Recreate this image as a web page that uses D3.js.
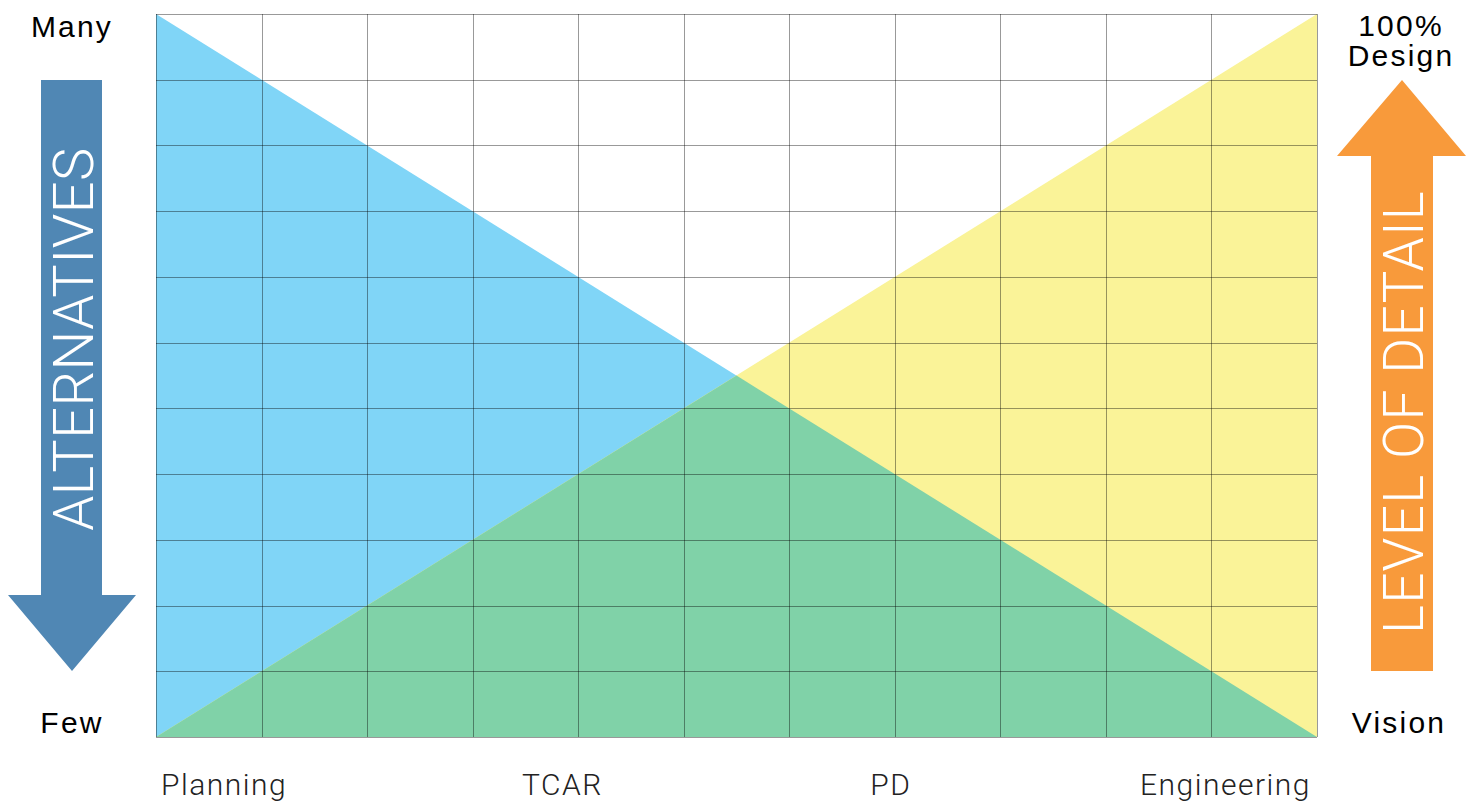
<!DOCTYPE html>
<html>
<head>
<meta charset="utf-8">
<script src="https://cdn.jsdelivr.net/npm/d3@7"></script>
<style>
    html, body { margin: 0; padding: 0; background: #fff; }
    svg { display: block; }
</style>
</head>
<body>
<svg id="chart" width="1471" height="804"></svg>
<script>
// 数据
var stages = ['Planning', 'TCAR', 'PD', 'Engineering'];
var stagePos = [0, 0.35, 0.633, 1];
var progress = [0, 1];
var alternatives = [100, 0];   // Many -> Few
var detail = [0, 100];         // Vision -> 100% Design
var gridCols = d3.range(0, 12);
var gridRows = d3.range(0, 12);

var svg = d3.select('#chart');

var x = d3.scaleLinear().domain([0, 1]).range([156, 1317]);
var y = d3.scaleLinear().domain([0, 100]).range([737, 14]);
var gx = d3.scaleLinear().domain([0, 11]).range([156, 1317]);
var gy = d3.scaleLinear().domain([0, 11]).range([737, 14]);

// 交点
var slopeA = (alternatives[1] - alternatives[0]) / (progress[1] - progress[0]);
var slopeD = (detail[1] - detail[0]) / (progress[1] - progress[0]);
var cx = (detail[0] - alternatives[0]) / (slopeA - slopeD);
var cy = alternatives[0] + slopeA * cx;

var line = d3.line().x(function (d) { return x(d[0]); }).y(function (d) { return y(d[1]); });

// 蓝色三角
svg.append('path')
    .attr('d', line([[progress[0], alternatives[0]], [progress[1], alternatives[1]], [progress[0], 0]]) + 'Z')
    .attr('fill', '#80d5f7');

// 黄色三角
svg.append('path')
    .attr('d', line([[progress[0], detail[0]], [progress[1], detail[1]], [progress[1], 0]]) + 'Z')
    .attr('fill', '#faf398');

// 重叠
svg.append('path')
    .attr('d', line([[progress[0], 0], [cx, cy], [progress[1], 0]]) + 'Z')
    .attr('fill', '#80d2a8');

// 网格
var grid = svg.append('g')
    .attr('stroke', 'rgba(0,0,0,0.4)')
    .attr('stroke-width', 1)
    .attr('shape-rendering', 'crispEdges');

grid.selectAll('line.v')
    .data(gridCols)
    .enter()
    .append('line')
    .attr('x1', function (d) { return Math.round(gx(d)) + 0.5; })
    .attr('x2', function (d) { return Math.round(gx(d)) + 0.5; })
    .attr('y1', gy(0))
    .attr('y2', gy(11));

grid.selectAll('line.h')
    .data(gridRows)
    .enter()
    .append('line')
    .attr('y1', function (d) { return Math.round(gy(d)) + 0.5; })
    .attr('y2', function (d) { return Math.round(gy(d)) + 0.5; })
    .attr('x1', gx(0))
    .attr('x2', gx(11));

// 左箭头
svg.append('path')
    .attr('d', 'M41,80 L102,80 L102,595 L136,595 L72,671 L8,595 L41,595 Z')
    .attr('fill', '#5087b4');

svg.append('text')
    .text('ALTERNATIVES')
    .attr('transform', 'translate(93,339) rotate(-90)')
    .attr('text-anchor', 'middle')
    .attr('font-family', 'Roboto')
    .attr('font-weight', 300)
    .attr('font-size', 56)
    .attr('letter-spacing', 0.5)
    .attr('fill', '#fff');

// 右箭头
svg.append('path')
    .attr('d', 'M1402,80 L1466,156 L1433,156 L1433,671 L1371,671 L1371,156 L1337,156 Z')
    .attr('fill', '#f89a3b');

svg.append('text')
    .text('LEVEL OF DETAIL')
    .attr('transform', 'translate(1423,412) rotate(-90)')
    .attr('text-anchor', 'middle')
    .attr('font-family', 'Roboto')
    .attr('font-weight', 300)
    .attr('font-size', 55)
    .attr('letter-spacing', 1.2)
    .attr('fill', '#fff');

// 端点标签
var ends = svg.append('g')
    .attr('font-family', 'Liberation Sans')
    .attr('font-size', 30)
    .attr('letter-spacing', 2.2)
    .attr('text-anchor', 'middle')
    .attr('fill', '#000');

ends.append('text').text('Many').attr('x', 72).attr('y', 37);
ends.append('text').text('Few').attr('x', 72).attr('y', 733);
ends.append('text').text('100%').attr('x', 1401).attr('y', 36);
ends.append('text').text('Design').attr('x', 1401).attr('y', 66);
ends.append('text').text('Vision').attr('x', 1399).attr('y', 733);

// 阶段
svg.append('g')
    .selectAll('text')
    .data(stages)
    .enter()
    .append('text')
    .text(function (d) { return d; })
    .attr('x', function (d, i) {
        if (i === 0) return x(stagePos[i]) + 5;
        if (i === stages.length - 1) return x(stagePos[i]) - 6;
        return x(stagePos[i]);
    })
    .attr('y', 795)
    .attr('text-anchor', function (d, i) {
        return i === 0 ? 'start' : (i === stages.length - 1 ? 'end' : 'middle');
    })
    .attr('font-family', 'Roboto')
    .attr('font-weight', 300)
    .attr('font-size', 30)
    .attr('letter-spacing', 1.5)
    .attr('fill', '#222');
</script>
</body>
</html>
